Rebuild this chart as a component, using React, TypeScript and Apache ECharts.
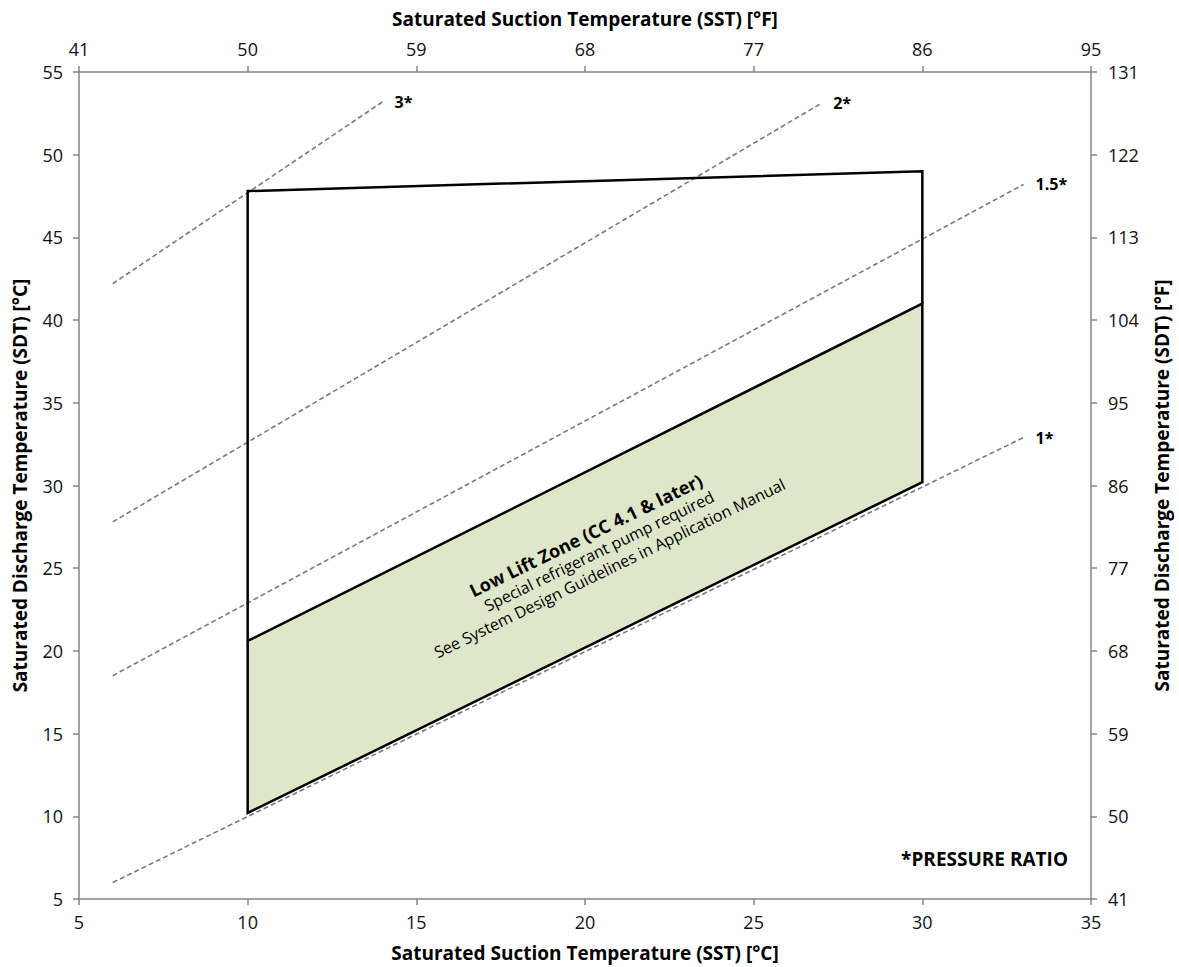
import React, { useEffect, useRef } from "react";
import * as echarts from "echarts";

// Saturated suction temperature axis (°C) and discharge axis (°C) ranges
const sstRangeC = [5, 35];
const sdtRangeC = [5, 55];
const tickStepC = 5;

// Compressor operating envelope outline (SST °C, SDT °C)
const envelopeOutline = [
  [10, 20.6],
  [10, 47.8],
  [30, 49.0],
  [30, 41.0],
];

// Low lift zone (shaded)
const lowLiftZone = [
  [10, 20.6],
  [30, 41.0],
  [30, 30.2],
  [10, 10.2],
];

// Constant pressure ratio reference lines
const ratio3 = [
  [6, 42.2],
  [14, 53.2],
];
const ratio2 = [
  [6, 27.8],
  [27, 53.1],
];
const ratio15 = [
  [6, 18.5],
  [33, 48.2],
];
const ratio1 = [
  [6, 6.0],
  [33, 32.9],
];

const ratioLines = [
  { name: "3*", data: ratio3 },
  { name: "2*", data: ratio2 },
  { name: "1.5*", data: ratio15 },
  { name: "1*", data: ratio1 },
];

// Low lift zone annotation lines
const zoneNotes = [
  { text: "Low Lift Zone (CC 4.1 & later)", bold: true, size: 18, dx: -5, dy: -20 },
  { text: "Special refrigerant pump required", bold: false, size: 16, dx: 0, dy: 0 },
  { text: "See System Design Guidelines in Application Manual", bold: false, size: 16, dx: 2, dy: 20 },
];

const FONT = "'Open Sans', 'Noto Sans', sans-serif";
const AXIS_GREY = "#868686";

const cToF = (v: number) => String(Math.round(v * 1.8 + 32));

export default function App() {
  const ref = useRef<HTMLDivElement>(null);

  useEffect(() => {
    if (!ref.current) return;
    const chart = echarts.init(ref.current, undefined, { renderer: "svg" });

    const axisCommon = {
      type: "value" as const,
      interval: tickStepC,
      splitLine: { show: false },
      axisLine: { show: true, onZero: false, lineStyle: { color: AXIS_GREY, width: 1.5 } },
      axisTick: { show: true, length: 6, lineStyle: { color: AXIS_GREY, width: 1.5 } },
      axisLabel: { color: "#111", fontSize: 18, fontFamily: FONT, margin: 14 },
      nameTextStyle: { color: "#000", fontSize: 19, fontWeight: "bold" as const, fontFamily: FONT },
      nameLocation: "middle" as const,
    };

    // annotation block centre and text angle
    const cx = 599;
    const cy = 551;
    const theta = (26 * Math.PI) / 180;

    const option: any = {
      animation: false,
      backgroundColor: "#fff",
      textStyle: { fontFamily: FONT },
      grid: { left: 79, right: 87, top: 72, bottom: 67, containLabel: false },
      xAxis: [
        {
          ...axisCommon,
          position: "bottom",
          min: sstRangeC[0],
          max: sstRangeC[1],
          name: "Saturated Suction Temperature (SST) [°C]",
          nameGap: 44,
        },
        {
          ...axisCommon,
          position: "top",
          min: sstRangeC[0],
          max: sstRangeC[1],
          name: "Saturated Suction Temperature (SST) [°F]",
          nameGap: 44,
          axisLabel: { ...axisCommon.axisLabel, formatter: cToF },
        },
      ],
      yAxis: [
        {
          ...axisCommon,
          position: "left",
          min: sdtRangeC[0],
          max: sdtRangeC[1],
          name: "Saturated Discharge Temperature (SDT) [°C]",
          nameGap: 50,
          axisLabel: { ...axisCommon.axisLabel, margin: 16 },
        },
        {
          ...axisCommon,
          position: "right",
          min: sdtRangeC[0],
          max: sdtRangeC[1],
          name: "Saturated Discharge Temperature (SDT) [°F]",
          nameGap: 61,
          axisLabel: { ...axisCommon.axisLabel, margin: 17, formatter: cToF },
        },
      ],
      series: [
        {
          type: "custom",
          name: "Low Lift Zone",
          xAxisIndex: 0,
          yAxisIndex: 0,
          data: lowLiftZone,
          encode: { x: 0, y: 1 },
          z: 2,
          renderItem: (params: any, api: any) => {
            if (params.dataIndex !== 0) return null;
            const pts = lowLiftZone.map((p) => api.coord(p));
            return {
              type: "polygon",
              shape: { points: pts },
              style: { fill: "#dfe7cb", stroke: "#000", lineWidth: 2.5, lineJoin: "miter" },
            };
          },
        },
        ...ratioLines.map((r) => ({
          type: "line",
          name: r.name,
          xAxisIndex: 0,
          yAxisIndex: 0,
          data: r.data,
          symbol: "none",
          z: 3,
          lineStyle: { color: "#7a7a7a", width: 1.6, type: [5, 3] },
          endLabel: {
            show: true,
            formatter: r.name,
            distance: 12,
            color: "#000",
            fontSize: 16,
            fontWeight: "bold",
            fontFamily: FONT,
          },
        })),
        {
          type: "line",
          name: "Envelope",
          xAxisIndex: 0,
          yAxisIndex: 0,
          data: envelopeOutline,
          symbol: "none",
          z: 4,
          lineStyle: { color: "#000", width: 2.5, join: "miter" },
        },
      ],
      graphic: [
        ...zoneNotes.map((n) => ({
          type: "text",
          x: cx + n.dx * Math.cos(theta) + n.dy * Math.sin(theta),
          y: cy - n.dx * Math.sin(theta) + n.dy * Math.cos(theta),
          rotation: theta,
          z: 100,
          style: {
            text: n.text,
            align: "center",
            verticalAlign: "middle",
            fontSize: n.size,
            fontWeight: n.bold ? "bold" : "normal",
            fontFamily: FONT,
            fill: "#000",
          },
        })),
        {
          type: "text",
          right: 111,
          top: 849,
          z: 100,
          style: {
            text: "*PRESSURE RATIO",
            fontSize: 19,
            fontWeight: "bold",
            fontFamily: FONT,
            fill: "#000",
          },
        },
      ],
    };

    chart.setOption(option);
    return () => chart.dispose();
  }, []);

  return (
    <div
      ref={ref}
      style={{ position: "absolute", left: 0, top: 0, width: 1179, height: 967, background: "#fff" }}
    />
  );
}
